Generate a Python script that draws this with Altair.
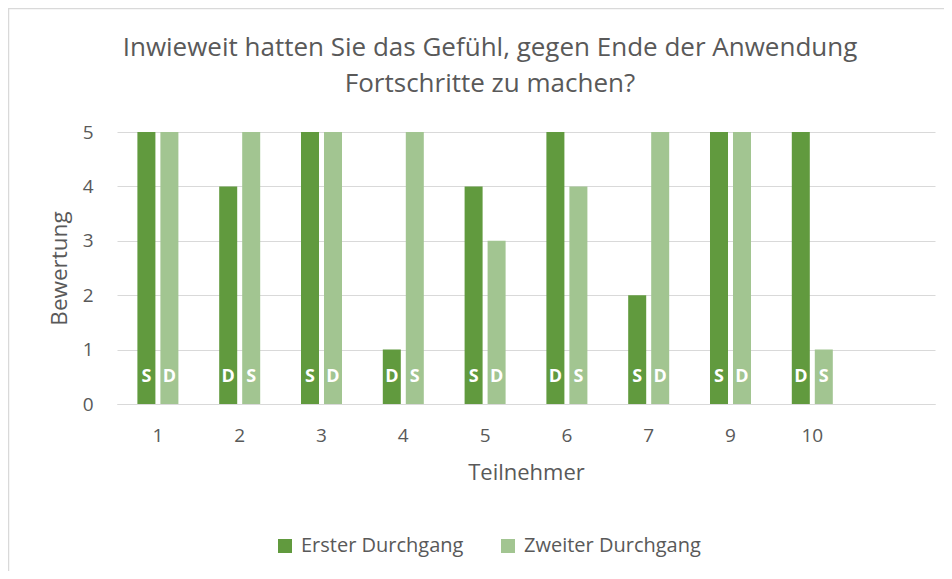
import altair as alt
import pandas as pd

participants = ["1", "2", "3", "4", "5", "6", "7", "9", "10"]
erster = [5, 4, 5, 1, 4, 5, 2, 5, 5]
zweiter = [5, 5, 5, 5, 3, 4, 5, 5, 1]
erster_letter = ["S", "D", "S", "D", "S", "D", "S", "S", "D"]
zweiter_letter = ["D", "S", "D", "S", "D", "S", "D", "D", "S"]
series = ["Erster Durchgang", "Zweiter Durchgang"]
colors = ["#619a3e", "#a2c591"]
title_lines = ["Inwieweit hatten Sie das Gefühl, gegen Ende der Anwendung",
               "Fortschritte zu machen?"]

rows = []
for p, v, l in zip(participants, erster, erster_letter):
    rows.append({"Teilnehmer": p, "Serie": series[0], "Bewertung": v, "Code": l})
for p, v, l in zip(participants, zweiter, zweiter_letter):
    rows.append({"Teilnehmer": p, "Serie": series[1], "Bewertung": v, "Code": l})
df = pd.DataFrame(rows)

FONT = "Open Sans"
GRAY = "#595959"
x_domain = participants + [" "]

x_enc = alt.X("Teilnehmer:N", scale=alt.Scale(domain=x_domain, paddingInner=0, paddingOuter=0),
              axis=alt.Axis(title="Teilnehmer", labelAngle=0, labelFontSize=19, labelColor=GRAY,
                            titleFontSize=22, titleColor=GRAY, titleFontWeight="normal",
                            labelPadding=22, titlePadding=17, ticks=False,
                            domainColor="#d9d9d9", labelFont=FONT, titleFont=FONT))
xo_enc = alt.XOffset("Serie:N", scale=alt.Scale(domain=series, paddingInner=0.217, paddingOuter=0.887))

bars = alt.Chart(df).mark_bar().encode(
    x=x_enc,
    xOffset=xo_enc,
    y=alt.Y("Bewertung:Q", scale=alt.Scale(domain=[0, 5], nice=False),
            axis=alt.Axis(title="Bewertung", values=[0, 1, 2, 3, 4, 5], labelFontSize=19,
                          labelColor=GRAY, titleFontSize=22.5, titleColor=GRAY,
                          titleFontWeight="normal", labelPadding=24, titlePadding=11,
                          ticks=False, domain=False, gridColor="#d9d9d9",
                          labelFont=FONT, titleFont=FONT)),
    color=alt.Color("Serie:N", scale=alt.Scale(domain=series, range=colors),
                    legend=alt.Legend(title=None, orient="none", direction="horizontal",
                                      legendX=158, legendY=404, symbolType="square",
                                      symbolSize=196, symbolStrokeWidth=0, labelFontSize=20,
                                      labelColor=GRAY, labelFont=FONT, columnPadding=34,
                                      labelOffset=6, padding=0, labelLimit=400)),
)

labels = alt.Chart(df).mark_text(color="white", fontWeight="bold", fontSize=18, font=FONT).encode(
    x=alt.X("Teilnehmer:N", scale=alt.Scale(domain=x_domain)),
    xOffset=alt.XOffset("Serie:N", scale=alt.Scale(domain=series)),
    y=alt.datum(0.5),
    text="Code:N",
)

one = pd.DataFrame({"a": [0]})
frame = alt.Chart(one).mark_rect(
    fill=None, stroke="#d9d9d9", strokeWidth=1.5
).encode(x=alt.value(-108.5), x2=alt.value(1000), y=alt.value(-123.5), y2=alt.value(600))

title1 = alt.Chart(one).mark_text(fontSize=26, font=FONT, color=GRAY, align="center",
                                  baseline="alphabetic").encode(
    x=alt.value(373), y=alt.value(-76), text=alt.value(title_lines[0]))
title2 = alt.Chart(one).mark_text(fontSize=26, font=FONT, color=GRAY, align="center",
                                  baseline="alphabetic").encode(
    x=alt.value(373), y=alt.value(-40), text=alt.value(title_lines[1]))

chart = alt.layer(frame, bars, labels, title1, title2).properties(
    width=818, height=272,
    autosize=alt.AutoSizeParams(type="none"),
    padding={"left": 109, "top": 124, "right": 9, "bottom": 167},
).configure_view(stroke=None).configure_axis(labelFont=FONT, titleFont=FONT)

chart.save("out.html", embed_options={"renderer": "svg", "actions": False})
